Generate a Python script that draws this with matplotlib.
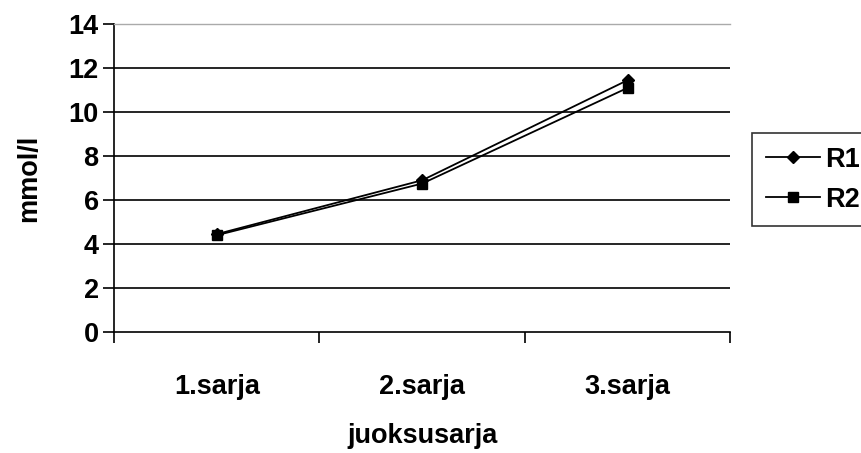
import matplotlib
matplotlib.use("Agg")
import matplotlib.pyplot as plt

categories = ["1.sarja", "2.sarja", "3.sarja"]
r1 = [4.45, 6.9, 11.45]
r2 = [4.4, 6.75, 11.1]
series_names = ["R1", "R2"]
yticks = [0, 2, 4, 6, 8, 10, 12, 14]

plt.rcParams["font.family"] = ["Liberation Sans", "DejaVu Sans"]
plt.rcParams["font.weight"] = "bold"
FS = 19.5

fig = plt.figure(figsize=(8.61, 4.53), dpi=100)
ax = fig.add_axes([0.1324, 0.267, 0.716, 0.68])

x = list(range(1, len(categories) + 1))
ax.plot(x, r1, color="black", lw=1.3, marker="D", markersize=6.5,
        markerfacecolor="black", markeredgecolor="black", label=series_names[0], zorder=3)
ax.plot(x, r2, color="black", lw=1.3, marker="s", markersize=6.5,
        markerfacecolor="black", markeredgecolor="black", label=series_names[1], zorder=3)

ax.set_xlim(0.5, len(categories) + 0.5)
ax.set_ylim(0, 14)
ax.set_yticks(yticks)
ax.set_yticklabels([str(v) for v in yticks], fontsize=FS, fontweight="bold")

for v in yticks[1:-1]:
    ax.axhline(v, color="black", lw=1.2, zorder=1)

ax.set_xticks(x)
ax.set_xticklabels(categories, fontsize=FS, fontweight="bold")
ax.tick_params(axis="x", which="major", length=0, pad=30)
ax.set_xticks([i + 0.5 for i in range(0, len(categories) + 1)], minor=True)
ax.tick_params(axis="x", which="minor", length=8, width=1.2, direction="out", color="black")
ax.tick_params(axis="y", length=8, width=1.2, direction="out", pad=3)

ax.spines["right"].set_visible(False)
ax.spines["top"].set_color("#aaaaaa")
ax.spines["top"].set_linewidth(1.0)
ax.spines["left"].set_linewidth(1.2)
ax.spines["bottom"].set_linewidth(1.2)

ax.set_xlabel("juoksusarja", fontsize=FS, fontweight="bold", labelpad=17)
ax.set_ylabel("mmol/l", fontsize=FS, fontweight="bold", labelpad=19)

leg = fig.legend(loc="upper left", bbox_to_anchor=(752 / 861, 1 - 133 / 453),
                 prop={"size": FS, "weight": "bold"}, frameon=True, fancybox=False,
                 edgecolor="black", handlelength=2.0, handletextpad=0.2,
                 borderpad=0.5, labelspacing=0.52, borderaxespad=0)
leg.get_frame().set_linewidth(1.2)

fig.savefig("out.png", dpi=100)
